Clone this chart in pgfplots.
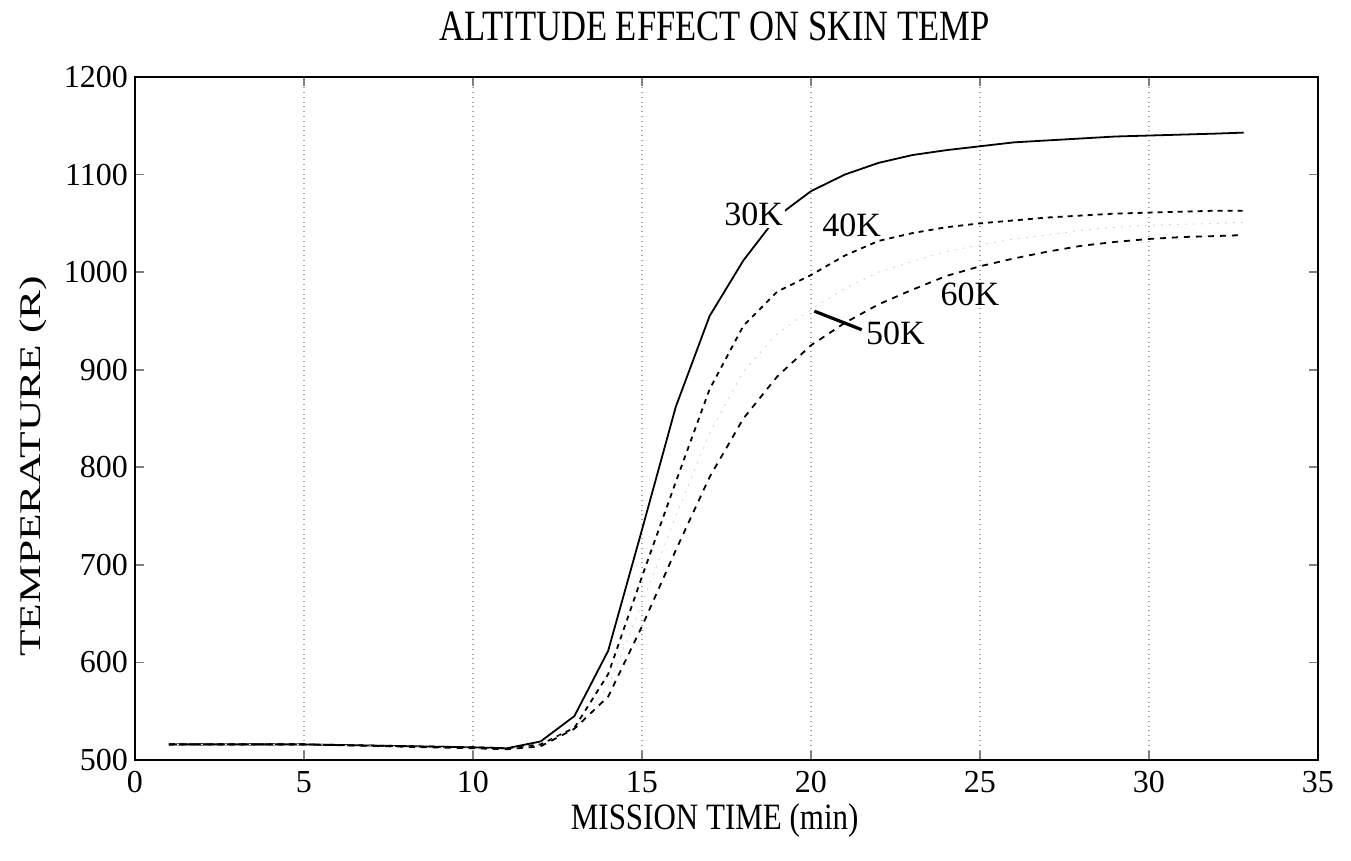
\documentclass[border=0pt]{standalone}
\usepackage{pgfplots}
\pgfplotsset{compat=1.18}
\usepackage{fontspec}
\setmainfont{Liberation Serif}

% altitude cases, skin temperature (R) vs mission time (min)
\pgfplotstableread{
t     k30   k40   k50   k60
1     516   516   516   516
5     516   516   516   516
10    513   513   512   512
11    512   512   511   511
12    519   516   515   514
13    545   533   532   532
14    612   588   575   565
15    736   688   660   637
16    862   785   750   715
17    955   880   835   790
18    1012  945   898   850
19    1057  980   937   893
20    1083  997   962   925
21    1100  1017  983   948
22    1112  1032  1000  967
23    1120  1040  1011  982
24    1125  1046  1021  996
25    1129  1050  1028  1006
26    1133  1053  1034  1014
27    1135  1056  1038  1021
28    1137  1058  1043  1027
29    1139  1060  1046  1031
30    1140  1061  1048  1034
31    1141  1062  1049  1036
32    1142  1063  1050  1037
32.8  1143  1063  1051  1038
}\skintemp

\begin{document}
\begin{tikzpicture}
\begin{axis}[
    at={(0,0)}, anchor=south west,
    scale only axis,
    width=591.5pt, height=341.5pt,
    xmin=0, xmax=35, ymin=500, ymax=1200,
    xtick={0,5,...,35},
    ytick={500,600,...,1200},
    tick align=inside,
    axis line style={line width=1pt},
    major tick style={line width=0.8pt},
    xmajorgrids=true,
    grid style={dotted, gray!70, line width=0.6pt},
    /pgf/number format/assume math mode=true,
    /pgf/number format/1000 sep={},
    tick label style={font=\fontsize{16}{16}\selectfont},
    xticklabel style={yshift=-2pt},
    title={\scalebox{1}[1.25]{ALTITUDE EFFECT ON SKIN TEMP}},
    title style={font=\fontsize{17.3}{17.3}\selectfont, at={(axis description cs:0.49,1.057)}, anchor=center},
    xlabel={\scalebox{1}[1.2]{MISSION TIME (min)}},
    xlabel style={font=\fontsize{15.5}{15.5}\selectfont, at={(axis description cs:0.49,-0.088)}, anchor=center},
    ylabel={\scalebox{1.45}[1]{TEMPERATURE (R)}},
    ylabel style={font=\fontsize{15}{15}\selectfont, at={(axis description cs:-0.0862,0.43)}, anchor=center},
]
\addplot[black, line width=0.9pt] table[x=t, y=k30] {\skintemp};
\addplot[black, line width=0.9pt, dash pattern=on 2.5pt off 2.5pt] table[x=t, y=k40] {\skintemp};
\addplot[gray!30, line width=0.5pt, dash pattern=on 1pt off 3pt] table[x=t, y=k50] {\skintemp};
\addplot[black, line width=0.9pt, dash pattern=on 3pt off 3pt] table[x=t, y=k60] {\skintemp};

\node[font=\fontsize{17}{17}\selectfont, fill=white, inner sep=1pt] at (axis cs:18.3,1059) {30K};
\node[font=\fontsize{17}{17}\selectfont] at (axis cs:21.2,1048) {40K};
\node[font=\fontsize{17}{17}\selectfont] at (axis cs:24.7,977) {60K};
\node[font=\fontsize{17}{17}\selectfont] at (axis cs:22.5,937) {50K};
\draw[line width=1.6pt] (axis cs:20.1,960) -- (axis cs:21.5,941);
\end{axis}
\pgfresetboundingbox
\useasboundingbox (-67.5pt,-50.5pt) rectangle (608pt,380pt);
\end{tikzpicture}
\end{document}
